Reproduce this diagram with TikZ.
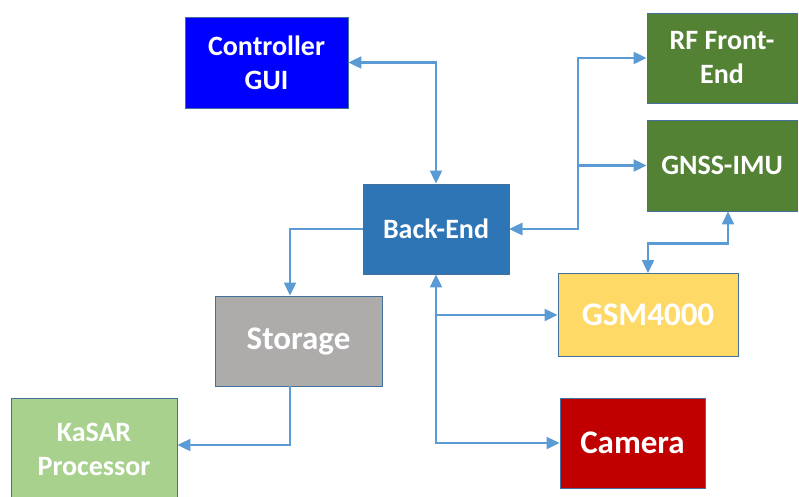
\documentclass[tikz,border=0pt]{standalone}
\usepackage{fontspec}
\setmainfont{Carlito}
\usepackage{tikz}
\usetikzlibrary{arrows.meta}
\definecolor{lnkc}{HTML}{5B9BD5}
\definecolor{edge}{HTML}{41719C}
\definecolor{guic}{HTML}{0000FF}
\definecolor{backc}{HTML}{2E75B6}
\definecolor{grnc}{HTML}{548235}
\definecolor{gsmc}{HTML}{FFD966}
\definecolor{storc}{HTML}{AEABAB}
\definecolor{kasc}{HTML}{A9D18E}
\definecolor{camc}{HTML}{C00000}
\tikzset{
  blk/.style={draw=edge,line width=0.9pt,inner sep=0pt,align=center,text=white,
    font=\fontsize{28}{34}\selectfont\bfseries},
  big/.style={font=\fontsize{33}{40}\selectfont\bfseries},
  lnk/.style={lnkc,line width=2.2pt,arrows={-Triangle[length=13pt,width=12pt]}},
  lnkb/.style={lnkc,line width=2.2pt,arrows={Triangle[length=13pt,width=12pt]-Triangle[length=13pt,width=12pt]}},
}

\begin{document}
\begin{tikzpicture}[x=1pt,y=-1pt]
\useasboundingbox (0,0) rectangle (799,496);
\clip (0,0) rectangle (799,496);
% boxes
\node[blk,fill=guic,minimum width=163pt,minimum height=91pt] (gui) at (266.5,62.5) {Controller\\GUI};
\node[blk,fill=grnc,minimum width=150pt,minimum height=90pt] (rf) at (722,58) {RF Front-\\End};
\node[blk,fill=grnc,minimum width=150pt,minimum height=91pt] (gnss) at (722,165.5) {GNSS-IMU};
\node[blk,fill=backc,minimum width=146pt,minimum height=90pt] (back) at (436,229) {Back-End};
\node[blk,big,fill=gsmc,minimum width=180pt,minimum height=83pt] (gsm) at (648,315) {GSM4000};
\node[blk,big,fill=storc,minimum width=167pt,minimum height=90pt] (store) at (298.5,341) {Storage};
\node[blk,fill=kasc,minimum width=166pt,minimum height=102pt] (kasar) at (94,449) {KaSAR\\Processor};
\node[blk,big,fill=camc,minimum width=145pt,minimum height=90pt] (cam) at (632.5,443) {Camera};
\coordinate (bj) at (578,229);
% links
\draw[lnkb] (gui.east) -| (back.north);
\draw[lnkb] (back.east) -- (bj) |- (rf.west);
\draw[lnkb] (back.east) -- (bj) |- (gnss.west);
\draw[lnkb] ([xshift=6pt]gnss.south) -- ++(0,32) -| (gsm.north);
\draw[lnk] (back.west) -| ([xshift=-8.5pt]store.north);
\draw[lnkb] (back.south) |- (cam.west);
\draw[lnk] (back.south |- gsm.west) -- (gsm.west);
\draw[lnk] ([xshift=-8.5pt]store.south) |- ([yshift=4pt]kasar.east);
\end{tikzpicture}
\end{document}
